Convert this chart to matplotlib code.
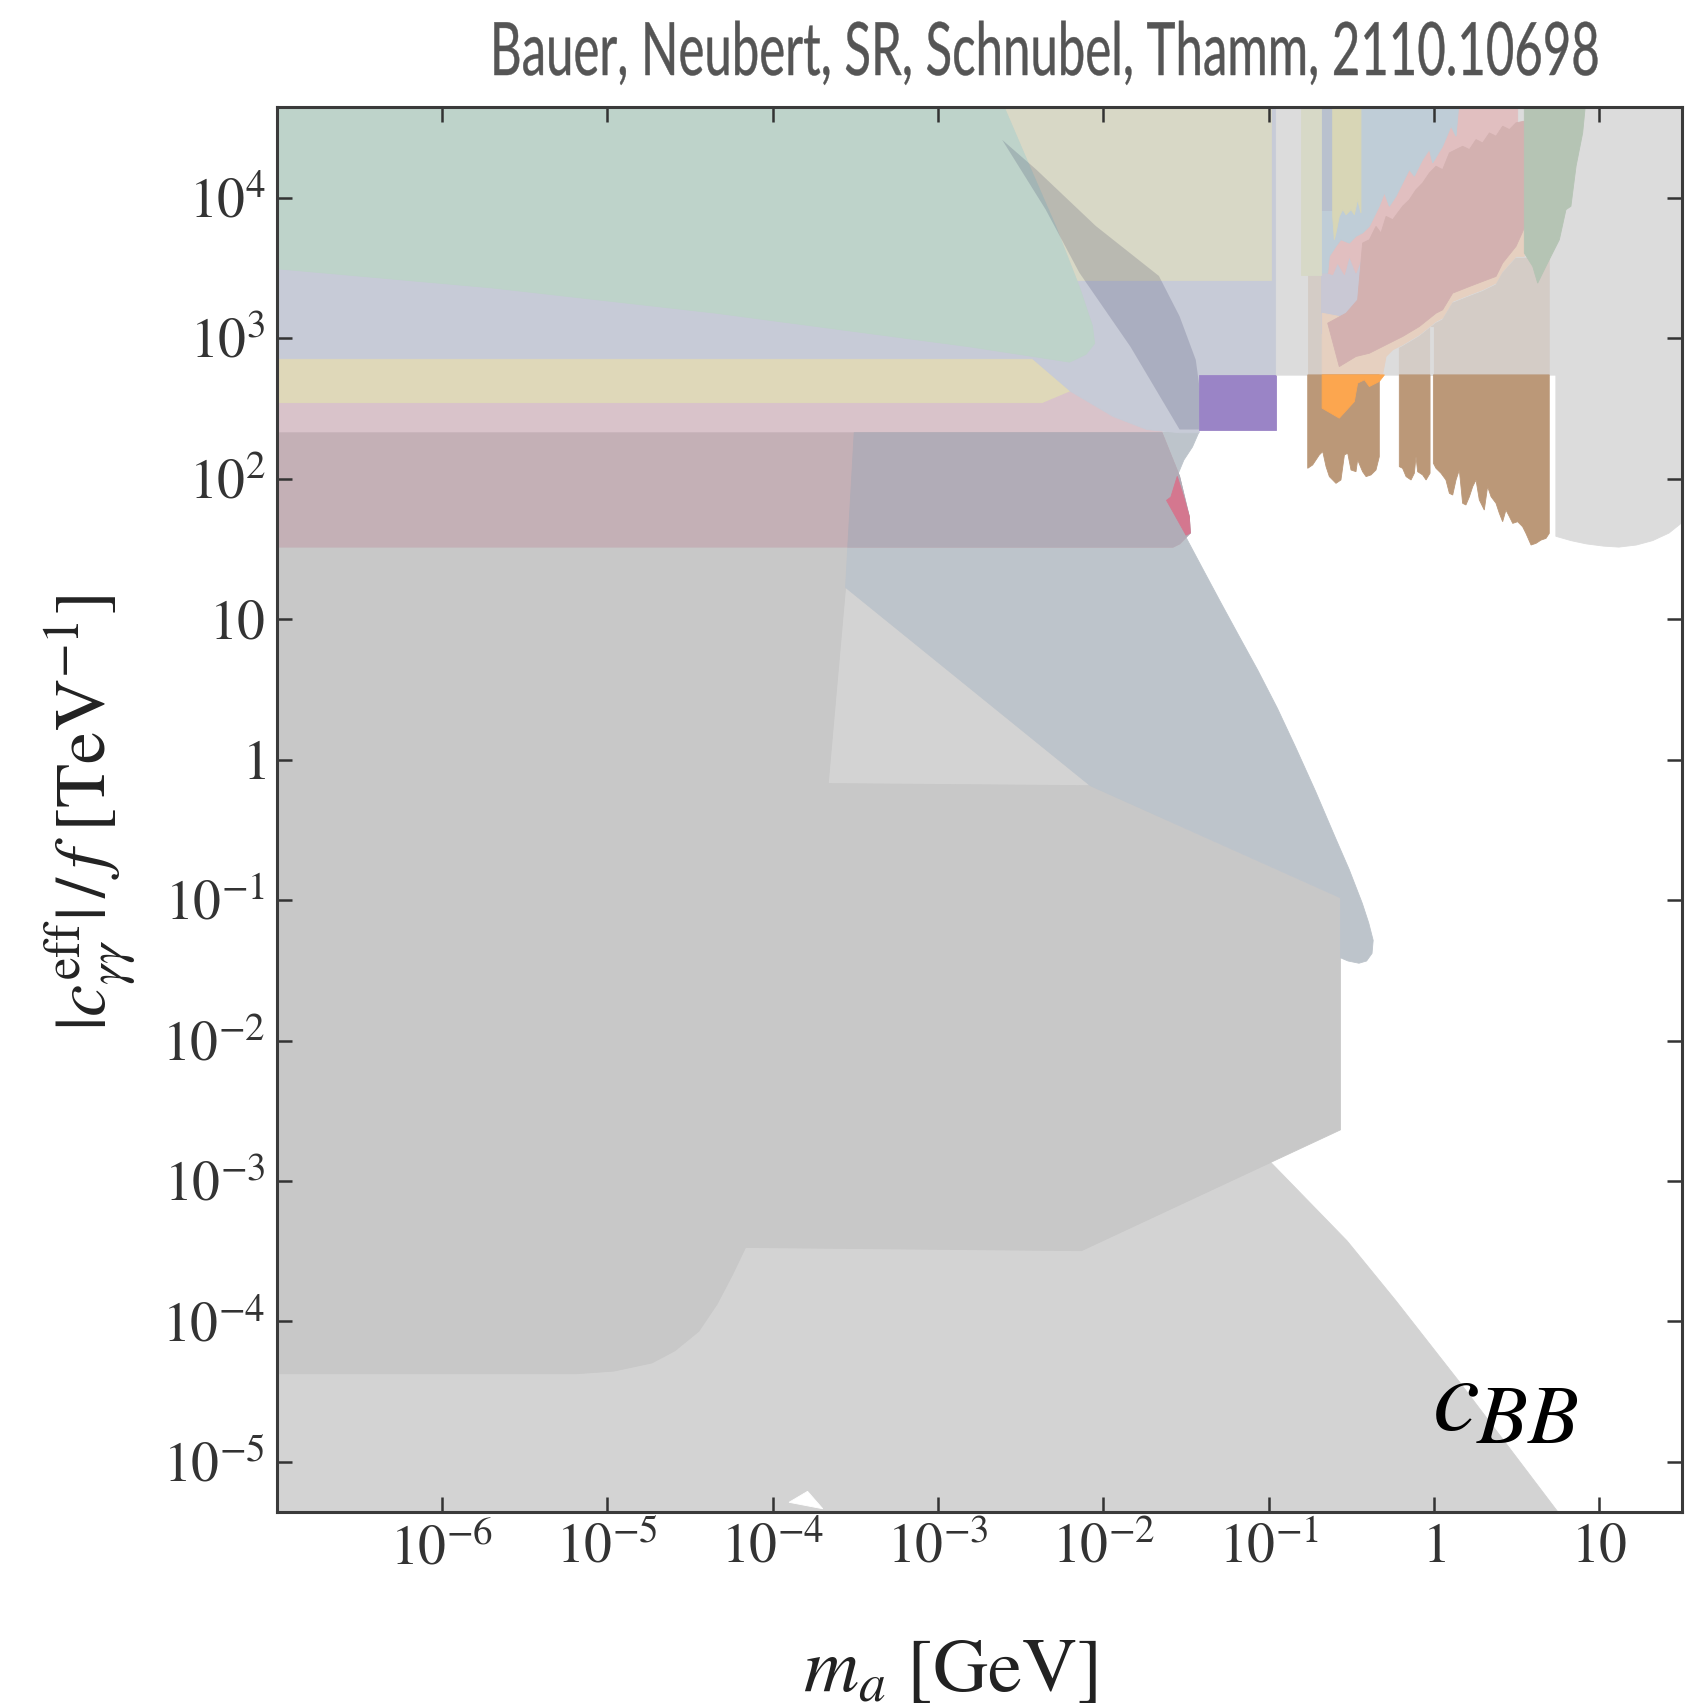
import numpy as np
import matplotlib
matplotlib.use("Agg")
import matplotlib.pyplot as plt
from matplotlib.patheffects import AbstractPathEffect
from matplotlib.transforms import Affine2D
from matplotlib.ticker import FixedLocator, FixedFormatter, NullLocator

plt.rcParams['mathtext.fontset'] = 'stix'
plt.rcParams['font.family'] = ['STIXGeneral', 'DejaVu Serif']

# ==========================
# DATA : region outlines
# every list is log10(m_a / GeV) or log10(|c|/f / TeV^-1)
# ==========================

# light grey envelope (lower left)
grey_lo_m = [-7.1, -2.099, -0.987, -0.526, -0.230, 0.151, 0.81, -7.1]
grey_lo_c = [1.535, 1.535, -2.868, -3.426, -3.853, -4.426, -5.45, -5.45]

# small white notch near the bottom axis
notch_m = [-3.901, -3.789, -3.697]
notch_c = [-5.287, -5.209, -5.333]

# darker grey block
grey_hi_m = [-7.1, -3.546, -3.559, -3.664, -2.079, -0.566, -0.566, -2.132,
             -4.164, -4.243, -4.336, -4.447, -4.592, -4.730, -4.961, -5.191, -7.1]
grey_hi_c = [1.512, 1.512, 1.225, -0.171, -0.186, -0.984, -2.636, -3.496,
             -3.473, -3.667, -3.876, -4.070, -4.209, -4.295, -4.353, -4.372, -4.372]

# blue-grey wedge
blue_m = [-3.507, -1.421, -1.461, -1.513, -1.546, -1.539, -1.500, -1.395,
          -1.289, -1.178, -1.066, -0.947, -0.836, -0.717, -0.599, -0.513,
          -0.434, -0.395, -0.368, -0.375, -0.408, -0.454, -0.520, -0.566,
          -0.566, -2.079, -3.559, -3.546]
blue_c = [2.326, 2.333, 2.225, 2.132, 2.039, 1.845, 1.581, 1.349,
          1.116, 0.876, 0.636, 0.364, 0.085, -0.225, -0.550, -0.783,
          -1.023, -1.163, -1.287, -1.380, -1.434, -1.450, -1.434, -1.411,
          -0.984, -0.186, 1.225, 1.512]

# horizontal bands on the left
yellow_m = [-7.1, -2.164, -2.164, -2.368, -7.1]
yellow_c = [2.853, 2.853, 2.636, 2.535, 2.535]

pink_m = [-7.1, -2.368, -2.164, -1.645, -1.645, -7.1]
pink_c = [2.535, 2.535, 2.636, 2.636, 2.326, 2.326]

mauve_m = [-7.1, -1.645, -1.539, -1.480, -1.474, -1.539, -1.579, -7.1]
mauve_c = [2.326, 2.326, 2.016, 1.729, 1.612, 1.535, 1.512, 1.512]

mix_m = [-3.507, -1.645, -1.539, -1.480, -1.474, -1.539, -1.579, -3.546]
mix_c = [2.326, 2.326, 2.016, 1.729, 1.612, 1.535, 1.512, 1.512]

lav_m = [-7.1, -0.954, -0.954, -1.421, -1.421, -1.539, -1.737, -1.941,
         -2.197, -2.428, -7.1]
lav_c = [4.7, 4.7, 2.736, 2.736, 2.326, 2.326, 2.349, 2.442,
         2.620, 2.853, 2.853]

khaki_m = [-2.757, -0.987, -0.987, -2.757]
khaki_c = [4.7, 4.7, 3.415, 3.415]

green_m = [-7.1, -2.62, -2.447, -2.289, -2.145, -2.066, -2.053, -2.105,
           -2.204, -2.809, -4.349, -5.697, -7.1]
green_c = [4.7, 4.7, 4.225, 3.798, 3.364, 3.085, 2.961, 2.884,
           2.829, 2.938, 3.178, 3.357, 3.504]

band_m = [-2.612, -2.349, -2.145, -1.836, -1.539, -1.421, -1.408, -1.441,
          -1.539, -1.664, -2.046, -2.408]
band_c = [4.411, 3.915, 3.465, 2.938, 2.349, 2.349, 2.558, 2.845,
          3.155, 3.442, 3.798, 4.202]

purple_m = [-1.421, -0.954, -0.954, -1.421]
purple_c = [2.349, 2.349, 2.736, 2.736]

red_m = [-1.553, -1.513, -1.480, -1.474, -1.500, -1.618, -1.592]
red_c = [2.016, 1.868, 1.729, 1.612, 1.597, 1.845, 1.868]

# right hand side (m_a > 0.1 GeV)
lgrey_m = [-0.954, 1.6, 1.6, 1.553, 1.487, 1.421, 1.322, 1.224, 1.118,
           1.026, 0.921, 0.829, 0.737, 0.737, -0.954]
lgrey_c = [4.7, 4.7, 1.84, 1.767, 1.674, 1.612, 1.558, 1.527, 1.512,
           1.519, 1.535, 1.558, 1.589, 2.736, 2.736]

tan1_m = [-0.764, -0.677, -0.677, -0.764]
tan1_c = [3.451, 3.451, 2.738, 2.738]

lilac_m = [-0.684, -0.391, -0.391, -0.684]
lilac_c = [3.985, 3.985, 3.035, 3.035]

lpink_m = [-0.643, -0.633, -0.593, -0.563, -0.512, -0.472, -0.432, -0.391,
           -0.331, -0.300, -0.270, -0.230, -0.149, -0.119, -0.069, -0.028,
           -0.008, 0.052, 0.103, 0.133, 0.153, 0.506, 0.506, -0.411,
           -0.472, -0.512, -0.542, -0.583, -0.613]
lpink_c = [3.463, 3.581, 3.653, 3.700, 3.676, 3.724, 3.748, 3.795,
           3.938, 4.033, 3.938, 4.009, 4.199, 4.152, 4.270, 4.342,
           4.247, 4.365, 4.508, 4.437, 4.7, 4.7, 3.748, 3.653,
           3.463, 3.581, 3.451, 3.534, 3.451]

lblue_m = [-0.684, 0.153, 0.133, 0.103, 0.052, -0.008, -0.028, -0.069,
           -0.119, -0.149, -0.230, -0.270, -0.300, -0.331, -0.391, -0.432,
           -0.472, -0.512, -0.563, -0.593, -0.633, -0.643, -0.684]
lblue_c = [4.7, 4.7, 4.437, 4.508, 4.365, 4.247, 4.342, 4.270,
           4.152, 4.199, 4.009, 3.938, 4.033, 3.938, 3.795, 3.748,
           3.724, 3.676, 3.700, 3.653, 3.581, 3.463, 3.463]

bstrip_m = [-0.684, -0.613, -0.613, -0.684]
bstrip_c = [4.7, 4.7, 3.914, 3.914]

ystrip_m = [-0.613, -0.442, -0.442, -0.462, -0.482, -0.502, -0.532, -0.552,
            -0.573, -0.593, -0.603, -0.613]
ystrip_c = [4.7, 4.7, 3.890, 3.985, 3.878, 3.914, 3.878, 3.914,
            3.866, 3.748, 3.700, 3.866]

kstrip_m = [-0.804, -0.684, -0.684, -0.804]
kstrip_c = [4.7, 4.7, 3.451, 3.451]

peach_m = [-0.677, -0.677, -0.573, -0.190, 0.546, 0.546, 0.496, 0.415,
           0.375, 0.294, 0.214, 0.113, 0.052, 0.012, -0.089, -0.190,
           -0.250, -0.290, -0.311]
peach_c = [2.738, 3.177, 3.154, 3.154, 3.866, 3.581, 3.581, 3.474,
           3.391, 3.344, 3.308, 3.261, 3.142, 3.118, 3.023, 2.952,
           2.916, 2.869, 2.738]

rose_m = [-0.643, -0.532, -0.462, -0.432, -0.391, -0.351, -0.321, -0.290,
          -0.250, -0.190, -0.149, -0.109, -0.069, -0.028, 0.012, 0.052,
          0.093, 0.133, 0.173, 0.214, 0.254, 0.294, 0.335, 0.375,
          0.415, 0.456, 0.496, 0.546, 0.546, 0.496, 0.415, 0.375,
          0.294, 0.214, 0.113, 0.052, 0.012, -0.089, -0.190, -0.290,
          -0.391, -0.472, -0.573]
rose_c = [3.106, 3.177, 3.272, 3.676, 3.700, 3.795, 3.748, 3.866,
          3.843, 3.938, 3.985, 4.056, 4.104, 4.175, 4.223, 4.199,
          4.318, 4.342, 4.365, 4.342, 4.413, 4.389, 4.460, 4.437,
          4.508, 4.484, 4.532, 4.544, 3.783, 3.653, 3.534, 3.439,
          3.403, 3.367, 3.320, 3.201, 3.177, 3.082, 3.011, 2.952,
          2.892, 2.869, 2.797]

tan2_m = [-0.210, -0.210, -0.190, -0.089, 0.012, 0.052, 0.113, 0.214,
          0.294, 0.375, 0.415, 0.496, 0.697, 0.697]
tan2_c = [2.738, 2.928, 2.940, 3.011, 3.106, 3.130, 3.249, 3.296,
          3.332, 3.379, 3.463, 3.569, 3.569, 2.738]

slit_m = [-0.024, -0.004, -0.004, -0.024]
slit_c = [3.082, 3.082, 2.738, 2.738]

sage_m = [0.546, 0.919, 0.899, 0.859, 0.828, 0.798, 0.758, 0.697,
          0.657, 0.627, 0.597, 0.546]
sage_c = [4.7, 4.7, 4.460, 4.223, 3.938, 3.914, 3.700, 3.558,
          3.463, 3.391, 3.510, 3.605]

brown1_m = [-0.764, -0.331, -0.331, -0.351, -0.381, -0.411, -0.432, -0.462,
            -0.472, -0.502, -0.522, -0.542, -0.563, -0.593, -0.633, -0.653,
            -0.673, -0.694, -0.734, -0.764]
brown1_c = [2.738, 2.738, 2.156, 2.061, 2.026, 2.014, 2.049, 2.133,
            2.049, 2.061, 2.180, 2.168, 1.990, 1.966, 2.014, 2.085,
            2.192, 2.168, 2.097, 2.073]

brown2_m = [-0.210, -0.024, -0.024, -0.048, -0.069, -0.099, -0.109, -0.119,
            -0.139, -0.169, -0.190, -0.210]
brown2_c = [2.738, 2.738, 2.038, 1.990, 2.026, 2.049, 2.156, 2.038,
            1.990, 2.014, 2.073, 2.085]

brown3_m = [-0.004, 0.697, 0.697, 0.677, 0.647, 0.617, 0.587, 0.556,
            0.536, 0.506, 0.476, 0.456, 0.435, 0.415, 0.395, 0.375,
            0.345, 0.324, 0.304, 0.274, 0.254, 0.234, 0.214, 0.193,
            0.173, 0.163, 0.153, 0.133, 0.113, 0.093, 0.072, 0.042,
            0.012, -0.004]
brown3_c = [2.738, 2.738, 1.610, 1.574, 1.562, 1.539, 1.527, 1.610,
            1.657, 1.693, 1.681, 1.729, 1.776, 1.693, 1.753, 1.824,
            1.871, 1.943, 1.776, 1.848, 1.990, 1.943, 1.871, 1.812,
            1.824, 1.943, 2.061, 1.990, 1.883, 1.895, 1.990, 2.038,
            2.073, 2.109]

orange_m = [-0.677, -0.300, -0.331, -0.391, -0.421, -0.462, -0.482, -0.573, -0.677]
orange_c = [2.738, 2.738, 2.691, 2.655, 2.703, 2.679, 2.548, 2.430, 2.501]

# axis ticks
x_ticks = [1e-6, 1e-5, 1e-4, 1e-3, 1e-2, 1e-1, 1, 10]
x_labels = [r'$10^{-6}$', r'$10^{-5}$', r'$10^{-4}$', r'$10^{-3}$',
            r'$10^{-2}$', r'$10^{-1}$', r'$1$', r'$10$']
y_ticks = [1e-5, 1e-4, 1e-3, 1e-2, 1e-1, 1, 10, 1e2, 1e3, 1e4]
y_labels = [r'$10^{-5}$', r'$10^{-4}$', r'$10^{-3}$', r'$10^{-2}$',
            r'$10^{-1}$', r'$1$', r'$10$', r'$10^{2}$', r'$10^{3}$', r'$10^{4}$']


class Squeeze(AbstractPathEffect):
    # rescales the glyphs about an anchor (condensed look of the header)
    def __init__(self, sx=1.0, sy=1.0, x0=0.0, y0=0.0, stroke=0.0):
        super().__init__()
        self.sx, self.sy, self.x0, self.y0 = sx, sy, x0, y0
        self.stroke = stroke

    def draw_path(self, renderer, gc, tpath, affine, rgbFace=None):
        t = affine + (Affine2D().translate(-self.x0, -self.y0)
                      .scale(self.sx, self.sy).translate(self.x0, self.y0))
        gc0 = renderer.new_gc()
        gc0.copy_properties(gc)
        if rgbFace is not None:
            gc0.set_foreground(rgbFace)
        gc0.set_linewidth(self.stroke)
        renderer.draw_path(gc0, tpath, t, rgbFace)
        gc0.restore()


def region(ax, m, c, color, alpha=1.0, edge=True):
    m = 10 ** np.asarray(m, dtype=float)
    c = 10 ** np.asarray(c, dtype=float)
    if edge:
        ax.fill(m, c, facecolor=color, edgecolor=color, lw=0.6, alpha=alpha)
    else:
        ax.fill(m, c, facecolor=color, lw=0, alpha=alpha)


# ==========================
# FIGURE
# ==========================

fig = plt.figure(figsize=(16.87, 17.05), dpi=100)
ax = fig.add_axes([0.1640, 0.1132, 0.83286, 0.8239])
ax.set_xscale('log')
ax.set_yscale('log')
ax.set_xlim(1e-7, 10 ** 1.498)
ax.set_ylim(10 ** -5.356, 10 ** 4.643)

region(ax, grey_lo_m, grey_lo_c, '#d3d3d3')
region(ax, grey_hi_m, grey_hi_c, '#c8c8c8')
region(ax, blue_m, blue_c, '#bdc4cb')
region(ax, yellow_m, yellow_c, '#dfd8b9')
region(ax, pink_m, pink_c, '#d9c3ca')
region(ax, mauve_m, mauve_c, '#c4b0b6')
region(ax, mix_m, mix_c, '#b1acb7')
region(ax, lav_m, lav_c, '#c7cbd7')
region(ax, khaki_m, khaki_c, '#d8d8c6')
region(ax, green_m, green_c, '#bed3ca')
region(ax, band_m, band_c, '#000037', alpha=0.14, edge=False)
region(ax, purple_m, purple_c, '#9a84c6')
region(ax, red_m, red_c, '#d4778f')

region(ax, lgrey_m, lgrey_c, '#dcdcdc')
region(ax, tan1_m, tan1_c, '#d4ccc6')
region(ax, lilac_m, lilac_c, '#c9c8d4')
region(ax, lpink_m, lpink_c, '#e1bfc0')
region(ax, lblue_m, lblue_c, '#bfcdd7')
region(ax, bstrip_m, bstrip_c, '#b9c1ce')
region(ax, ystrip_m, ystrip_c, '#d8d6b6')
region(ax, kstrip_m, kstrip_c, '#d7d9c7')
region(ax, peach_m, peach_c, '#e6d0c0')
region(ax, rose_m, rose_c, '#d3b1b0')
region(ax, tan2_m, tan2_c, '#d4ccc6')
region(ax, slit_m, slit_c, '#dcdcdc')
region(ax, sage_m, sage_c, '#b5c4b4')
region(ax, brown1_m, brown1_c, '#bb9878')
region(ax, brown2_m, brown2_c, '#bb9878')
region(ax, brown3_m, brown3_c, '#bb9878')
region(ax, orange_m, orange_c, '#fca64f')
region(ax, notch_m, notch_c, 'white')

# ticks and frame
ax.xaxis.set_major_locator(FixedLocator(x_ticks))
ax.xaxis.set_major_formatter(FixedFormatter(x_labels))
ax.yaxis.set_major_locator(FixedLocator(y_ticks))
ax.yaxis.set_major_formatter(FixedFormatter(y_labels))
ax.xaxis.set_minor_locator(NullLocator())
ax.yaxis.set_minor_locator(NullLocator())
ax.tick_params(which='major', direction='in', top=True, right=True,
               length=11, width=1.8, color='#333333',
               labelsize=40, labelcolor='#333333', pad=8)
for s in ax.spines.values():
    s.set_linewidth(2.2)
    s.set_color('#3a3a3a')

fig.text(0.563, 0.0082, r'$m_a\ [\mathrm{GeV}]$', ha='center', va='baseline',
         fontsize=55, color='#222222')
fig.text(0.0545, 0.523, r'$|c_{\gamma\gamma}^{\rm eff}|\,/\,f\ [\mathrm{TeV}^{-1}]$',
         ha='center', va='center', rotation=90, fontsize=52, color='#222222')

# operator label c_BB (subscript drawn larger than mathtext would)
fig.text(0.8488, 0.1613, r'$c$', ha='left', va='baseline', fontsize=76, color='black')
fig.text(0.8749, 0.1537, r'$BB$', ha='left', va='baseline', fontsize=60, color='black')

sq = Squeeze(stroke=0.3)
title = fig.text(0.6188, 0.956, 'Bauer, Neubert, SR, Schnubel, Thamm, 2110.10698',
                 ha='center', va='baseline', fontsize=30, color='#555555',
                 family=['Lato', 'DejaVu Sans'], path_effects=[sq])

fig.canvas.draw()
bb = title.get_window_extent()
sq.sx = 1108.0 / bb.width
sq.sy = 53.0 / 30.0
sq.x0 = 0.5 * (bb.x0 + bb.x1)
sq.y0 = 0.956 * fig.bbox.height

fig.savefig('out.png', dpi=100)
